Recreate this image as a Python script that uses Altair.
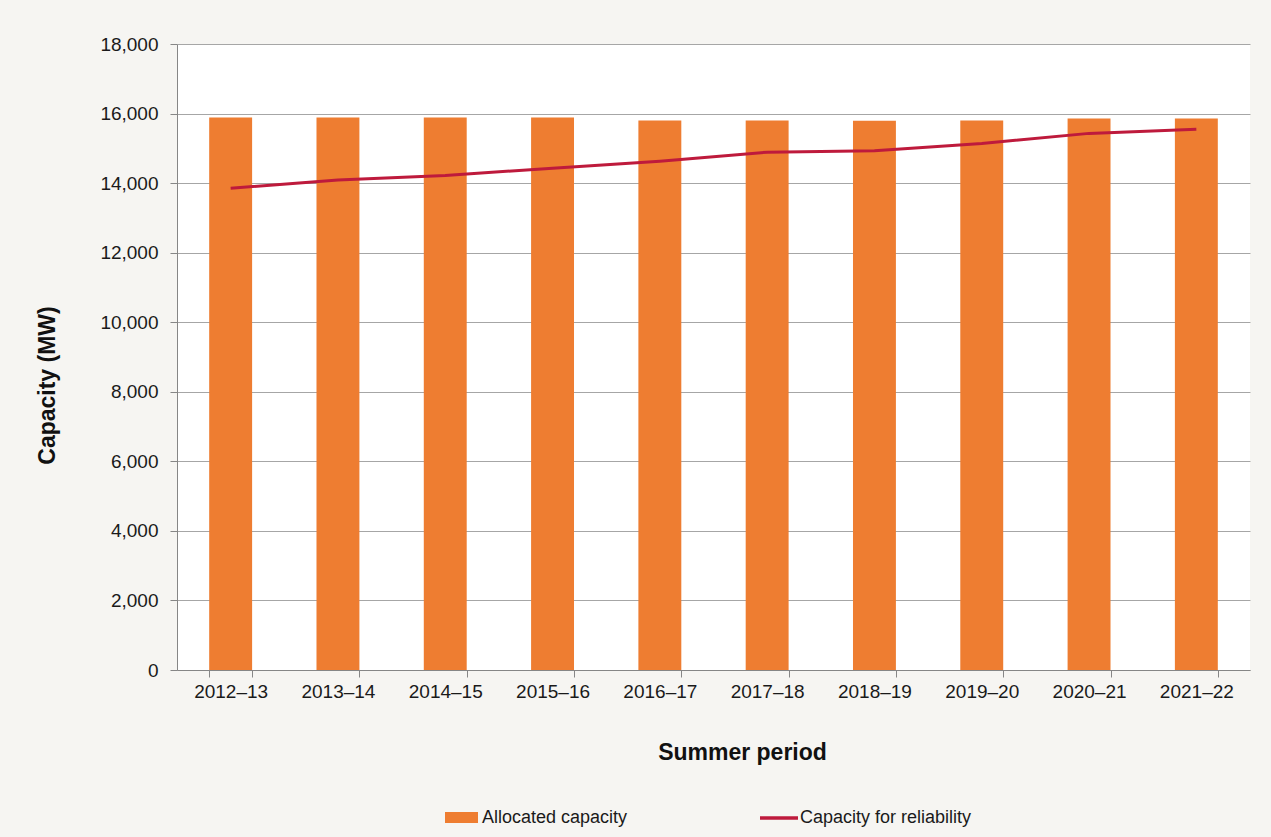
import altair as alt
import pandas as pd

periods = ["2012–13", "2013–14", "2014–15", "2015–16", "2016–17",
           "2017–18", "2018–19", "2019–20", "2020–21", "2021–22"]
allocated = [15890, 15890, 15890, 15890, 15800, 15800, 15790, 15800, 15860, 15860]
reliability = [13850, 14090, 14220, 14430, 14630, 14890, 14930, 15140, 15430, 15550]
y_ticks = list(range(0, 18001, 2000))

ORANGE = "#EE7D31"
RED = "#BE1A3C"
FONT = "Liberation Sans"

df = pd.DataFrame({
    "period": periods,
    "allocated": allocated,
    "reliability": reliability,
    "s1": "Allocated capacity",
    "s2": "Capacity for reliability",
})

W, H = 1073, 626

x_enc = alt.X(
    "period:N", sort=periods, title="Summer period",
    scale=alt.Scale(paddingInner=0.6, paddingOuter=0.3),
    axis=alt.Axis(
        labelAngle=0, labelFontSize=19, labelFont=FONT, labelColor="#1a1a1a",
        labelPadding=5, tickBand="extent", tickSize=7, tickColor="#868686",
        domainColor="#868686", grid=False,
        titleFontSize=23, titleFont=FONT, titleFontWeight="bold", titleColor="#111111",
        titleX=565, titleY=82, titleAnchor="middle", titleBaseline="middle",
    ),
)

bars = alt.Chart(df).mark_bar().encode(
    x=x_enc,
    y=alt.Y(
        "allocated:Q", title="Capacity (MW)",
        scale=alt.Scale(domain=[0, 18000], nice=False),
        axis=alt.Axis(
            values=y_ticks, format=",d", labelFontSize=19, labelFont=FONT,
            labelColor="#1a1a1a", labelPadding=12, tickSize=7, tickColor="#868686",
            domainColor="#868686", gridColor="#a6a6a6", gridWidth=1,
            titleFontSize=23, titleFont=FONT, titleFontWeight="bold", titleColor="#111111",
            titleX=-130, titleY=341, titleAngle=270, titleAnchor="middle",
            titleBaseline="middle", titleAlign="center",
        ),
    ),
    fill=alt.Fill(
        "s1:N", scale=alt.Scale(domain=["Allocated capacity"], range=[ORANGE]),
        legend=alt.Legend(
            title=None, orient="none", legendX=268, legendY=757,
            symbolType="M-1,-0.333H1V0.333H-1Z", symbolSize=1089,
            symbolStrokeWidth=0, labelFontSize=18, labelFont=FONT,
            labelColor="#1a1a1a", labelOffset=4, labelLimit=400,
        ),
    ),
)

line = alt.Chart(df).mark_line(strokeWidth=3).encode(
    x=alt.X("period:N", sort=periods),
    y=alt.Y("reliability:Q"),
    stroke=alt.Stroke(
        "s2:N", scale=alt.Scale(domain=["Capacity for reliability"], range=[RED]),
        legend=alt.Legend(
            title=None, orient="none", legendX=581, legendY=753,
            symbolType="stroke", symbolSize=1444, symbolStrokeWidth=3.5,
            labelFontSize=18, labelFont=FONT, labelColor="#1a1a1a", labelOffset=0,
            labelLimit=400,
        ),
    ),
)

chart = alt.layer(bars, line).properties(
    width=W, height=H,
    autosize=alt.AutoSizeParams(type="none"),
    padding={"left": 177, "top": 44, "right": 21, "bottom": 167},
    background="#f6f5f2",
).configure_view(fill="white", stroke=None)

chart.save("out.html", embed_options={"renderer": "svg", "actions": False})
